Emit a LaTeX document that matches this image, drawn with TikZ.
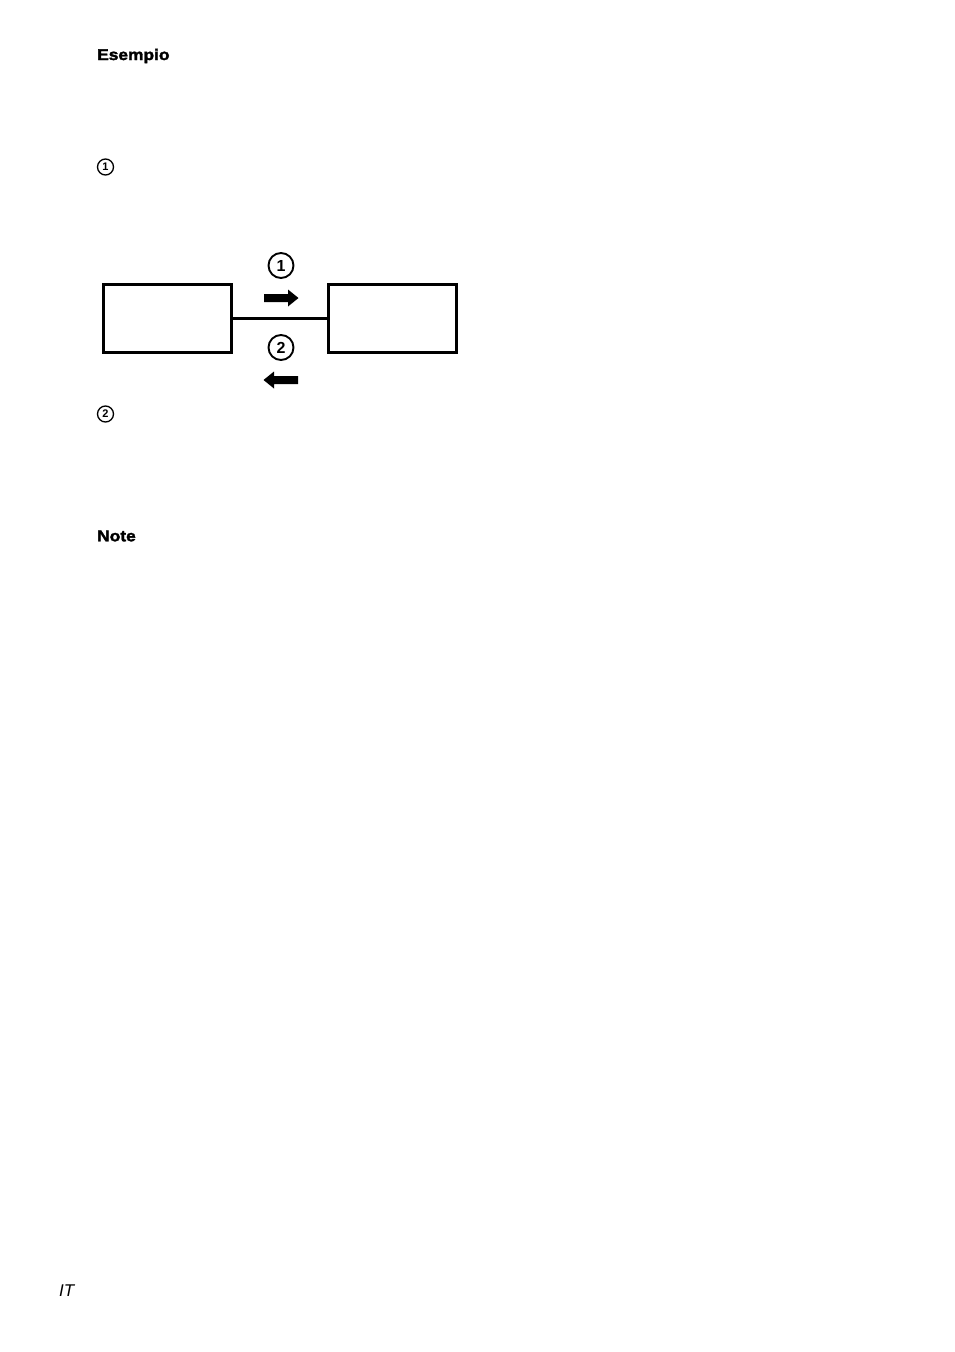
\documentclass[tikz,border=0pt]{standalone}
\usepackage{fontspec}
\setmainfont{Liberation Sans}
\newfontfamily\blackfont[FakeBold=2.2,FakeStretch=1.12]{Liberation Sans Bold}
\begin{document}
\begin{tikzpicture}[x=1pt,y=-1pt,
  box/.style={draw,line width=2.4pt,minimum width=128pt,minimum height=68pt,inner sep=0pt},
  bigcirc/.style={circle,draw,line width=1.9pt,minimum size=25pt,inner sep=0pt,font=\bfseries\fontsize{16}{16}\selectfont},
  smallcirc/.style={circle,draw,line width=1.3pt,minimum size=16pt,inner sep=0pt,font=\bfseries\fontsize{11}{11}\selectfont},
  head/.style={anchor=west,inner sep=0pt,font=\blackfont\fontsize{15.5}{16}\selectfont},
  fatarrow/.style={fill=black}]
\useasboundingbox (0,0) rectangle (954,1352);
\node[head] (esempio) at (97,56) {Esempio};
\node[smallcirc] (s1) at (105.5,167) {1};
\node[box] (left) at (167.5,318.5) {};
\node[box] (right) at (392.5,318.5) {};
\draw[line width=2.4pt] (left.east) -- (right.west);
\node[bigcirc] (c1) at (281,265.5) {1};
\node[bigcirc] (c2) at (281,347.5) {2};
\fill[fatarrow] (264,294) -- (288,294) -- (288,289.5) -- (298.5,298) -- (288,306.5) -- (288,302) -- (264,302) -- cycle;
\fill[fatarrow] (298,376) -- (274,376) -- (274,371.5) -- (263.5,380) -- (274,388.5) -- (274,384) -- (298,384) -- cycle;
\node[smallcirc] (s2) at (105.5,414) {2};
\node[head] (note) at (97,536) {Note};
\node[anchor=west,inner sep=0pt,font=\itshape\fontsize{17}{17}\selectfont] (it) at (59,1291) {IT};
\end{tikzpicture}
\end{document}
